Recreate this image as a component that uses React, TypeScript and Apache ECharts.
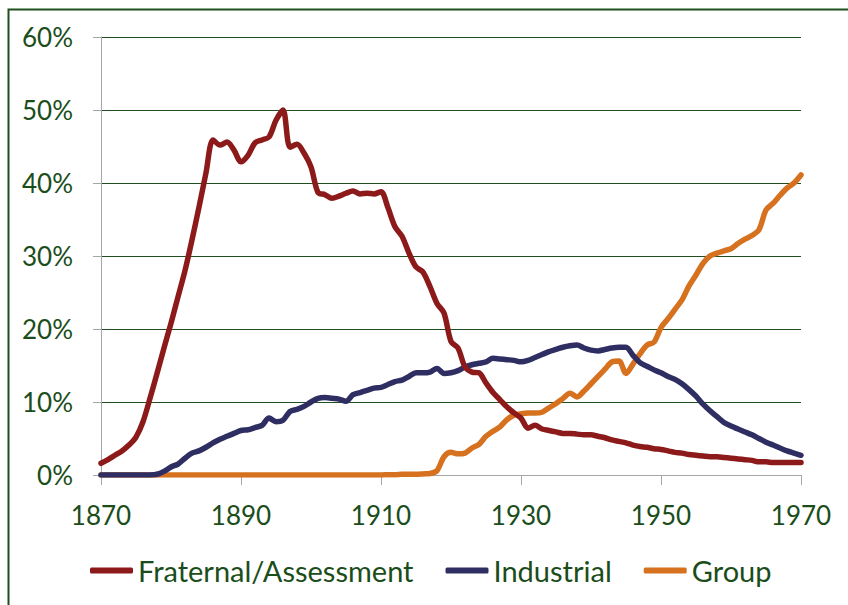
import React, { useEffect, useRef } from "react";
import * as echarts from "echarts";

const years: number[] = [];
for (let y = 1870; y <= 1970; y++) years.push(y);

const fraternal = [
  1.6, 2.1, 2.7, 3.3, 4.1, 5.2, 7.3, 10.5, 13.9, 17.4,
  20.8, 24.4, 28.0, 32.2, 36.7, 41.4, 45.9, 45.2, 45.6, 44.5,
  42.9, 43.8, 45.5, 45.9, 46.3, 48.6, 50.0, 44.9, 45.3, 44.1,
  42.2, 38.7, 38.4, 37.9, 38.2, 38.6, 38.9, 38.5, 38.6, 38.5,
  38.8, 36.6, 34.0, 32.7, 30.4, 28.5, 27.8, 25.8, 23.5, 22.2,
  18.3, 17.4, 14.8, 14.1, 14.0, 12.6, 11.3, 10.3, 9.3, 8.5,
  7.8, 6.4, 6.8, 6.3, 6.1, 5.9, 5.7, 5.7, 5.6, 5.5,
  5.5, 5.3, 5.1, 4.8, 4.6, 4.4, 4.1, 3.9, 3.8, 3.6,
  3.5, 3.3, 3.1, 3.0, 2.8, 2.7, 2.6, 2.5, 2.5, 2.4,
  2.3, 2.2, 2.1, 2.0, 1.8, 1.8, 1.7, 1.7, 1.7, 1.7,
  1.7,
];

const industrial = [
  0, 0, 0, 0, 0, 0, 0, 0, 0.1, 0.5,
  1.1, 1.5, 2.3, 3.0, 3.3, 3.8, 4.4, 4.9, 5.3, 5.7,
  6.1, 6.2, 6.5, 6.8, 7.8, 7.3, 7.5, 8.7, 9.0, 9.4,
  10.0, 10.5, 10.6, 10.5, 10.4, 10.1, 11.0, 11.3, 11.6, 11.9,
  12.0, 12.4, 12.8, 13.0, 13.5, 14.0, 14.0, 14.1, 14.6, 13.9,
  14.0, 14.3, 14.8, 15.1, 15.3, 15.5, 16.0, 15.9, 15.8, 15.7,
  15.5, 15.7, 16.1, 16.5, 16.9, 17.2, 17.5, 17.7, 17.8, 17.4,
  17.1, 17.0, 17.2, 17.4, 17.5, 17.5, 16.4, 15.4, 14.9, 14.4,
  14.0, 13.5, 13.1, 12.5, 11.7, 10.8, 9.7, 8.8, 8.0, 7.2,
  6.7, 6.3, 5.9, 5.5, 5.0, 4.5, 4.1, 3.7, 3.3, 3.0,
  2.7,
];

const group = [
  0, 0, 0, 0, 0, 0, 0, 0, 0, 0,
  0, 0, 0, 0, 0, 0, 0, 0, 0, 0,
  0, 0, 0, 0, 0, 0, 0, 0, 0, 0,
  0, 0, 0, 0, 0, 0, 0, 0, 0, 0,
  0, 0.05, 0.05, 0.1, 0.1, 0.1, 0.15, 0.2, 0.6, 2.5,
  3.1, 2.9, 3.0, 3.7, 4.2, 5.3, 6.0, 6.6, 7.6, 8.2,
  8.4, 8.5, 8.5, 8.6, 9.2, 9.8, 10.5, 11.2, 10.7, 11.5,
  12.5, 13.5, 14.5, 15.5, 15.6, 13.9, 15.2, 16.6, 17.8, 18.2,
  20.2, 21.4, 22.7, 24.0, 25.9, 27.4, 29.0, 30.0, 30.4, 30.7,
  31.0, 31.7, 32.3, 32.8, 33.6, 36.3, 37.2, 38.3, 39.3, 40.0,
  41.1,
];

const seriesNames = ["Fraternal/Assessment", "Industrial", "Group"];
const seriesColors = ["#8c1a1a", "#2e2e62", "#d6721f"];

export default function App() {
  const ref = useRef<HTMLDivElement>(null);
  useEffect(() => {
    if (!ref.current) return;
    const chart = echarts.init(ref.current, null, { renderer: "svg" });
    const txt = "#1b4d1b";
    const font = "Lato";
    const allData = [fraternal, industrial, group];
    chart.setOption({
      animation: false,
      backgroundColor: "#ffffff",
      graphic: [
        {
          type: "rect",
          left: 6,
          top: 7,
          shape: { width: 870, height: 640 },
          style: { fill: "none", stroke: "#1f4f1f", lineWidth: 2 },
          silent: true,
        },
      ],
      grid: { left: 101, right: 47, top: 37, bottom: 130, containLabel: false },
      xAxis: {
        type: "value",
        min: 1870,
        max: 1970,
        interval: 20,
        axisLine: { show: true, lineStyle: { color: "#a6a6a6", width: 1 } },
        axisTick: { show: true, length: 10, lineStyle: { color: "#a6a6a6" } },
        splitLine: { show: false },
        axisLabel: {
          color: txt,
          fontFamily: font,
          fontSize: 26,
          margin: 27,
          formatter: (v: number) => String(v),
        },
      },
      yAxis: {
        type: "value",
        min: 0,
        max: 60,
        interval: 10,
        axisLine: { show: true, lineStyle: { color: "#a6a6a6", width: 1 } },
        axisTick: { show: true, length: 8, lineStyle: { color: "#a6a6a6" } },
        splitLine: { show: true, lineStyle: { color: "#1f4f1f", width: 1 } },
        axisLabel: {
          color: txt,
          fontFamily: font,
          fontSize: 26,
          margin: 28,
          formatter: "{value}%",
        },
      },
      legend: {
        bottom: 15,
        left: 85,
        itemWidth: 43,
        itemHeight: 6,
        itemGap: 32,
        icon: "roundRect",
        textStyle: { color: txt, fontFamily: font, fontSize: 29 },
        data: seriesNames,
      },
      series: seriesNames.map((name, i) => ({
        name,
        type: "line",
        showSymbol: false,
        smooth: 0.3,
        z: 3 - i,
        lineStyle: { color: seriesColors[i], width: 5.5, cap: "round", join: "round" },
        itemStyle: { color: seriesColors[i] },
        data: years.map((y, k) => [y, allData[i][k]]),
      })),
    });
    return () => chart.dispose();
  }, []);
  return (
    <div
      ref={ref}
      style={{ position: "fixed", left: 0, top: 0, width: 848, height: 605 }}
    />
  );
}
